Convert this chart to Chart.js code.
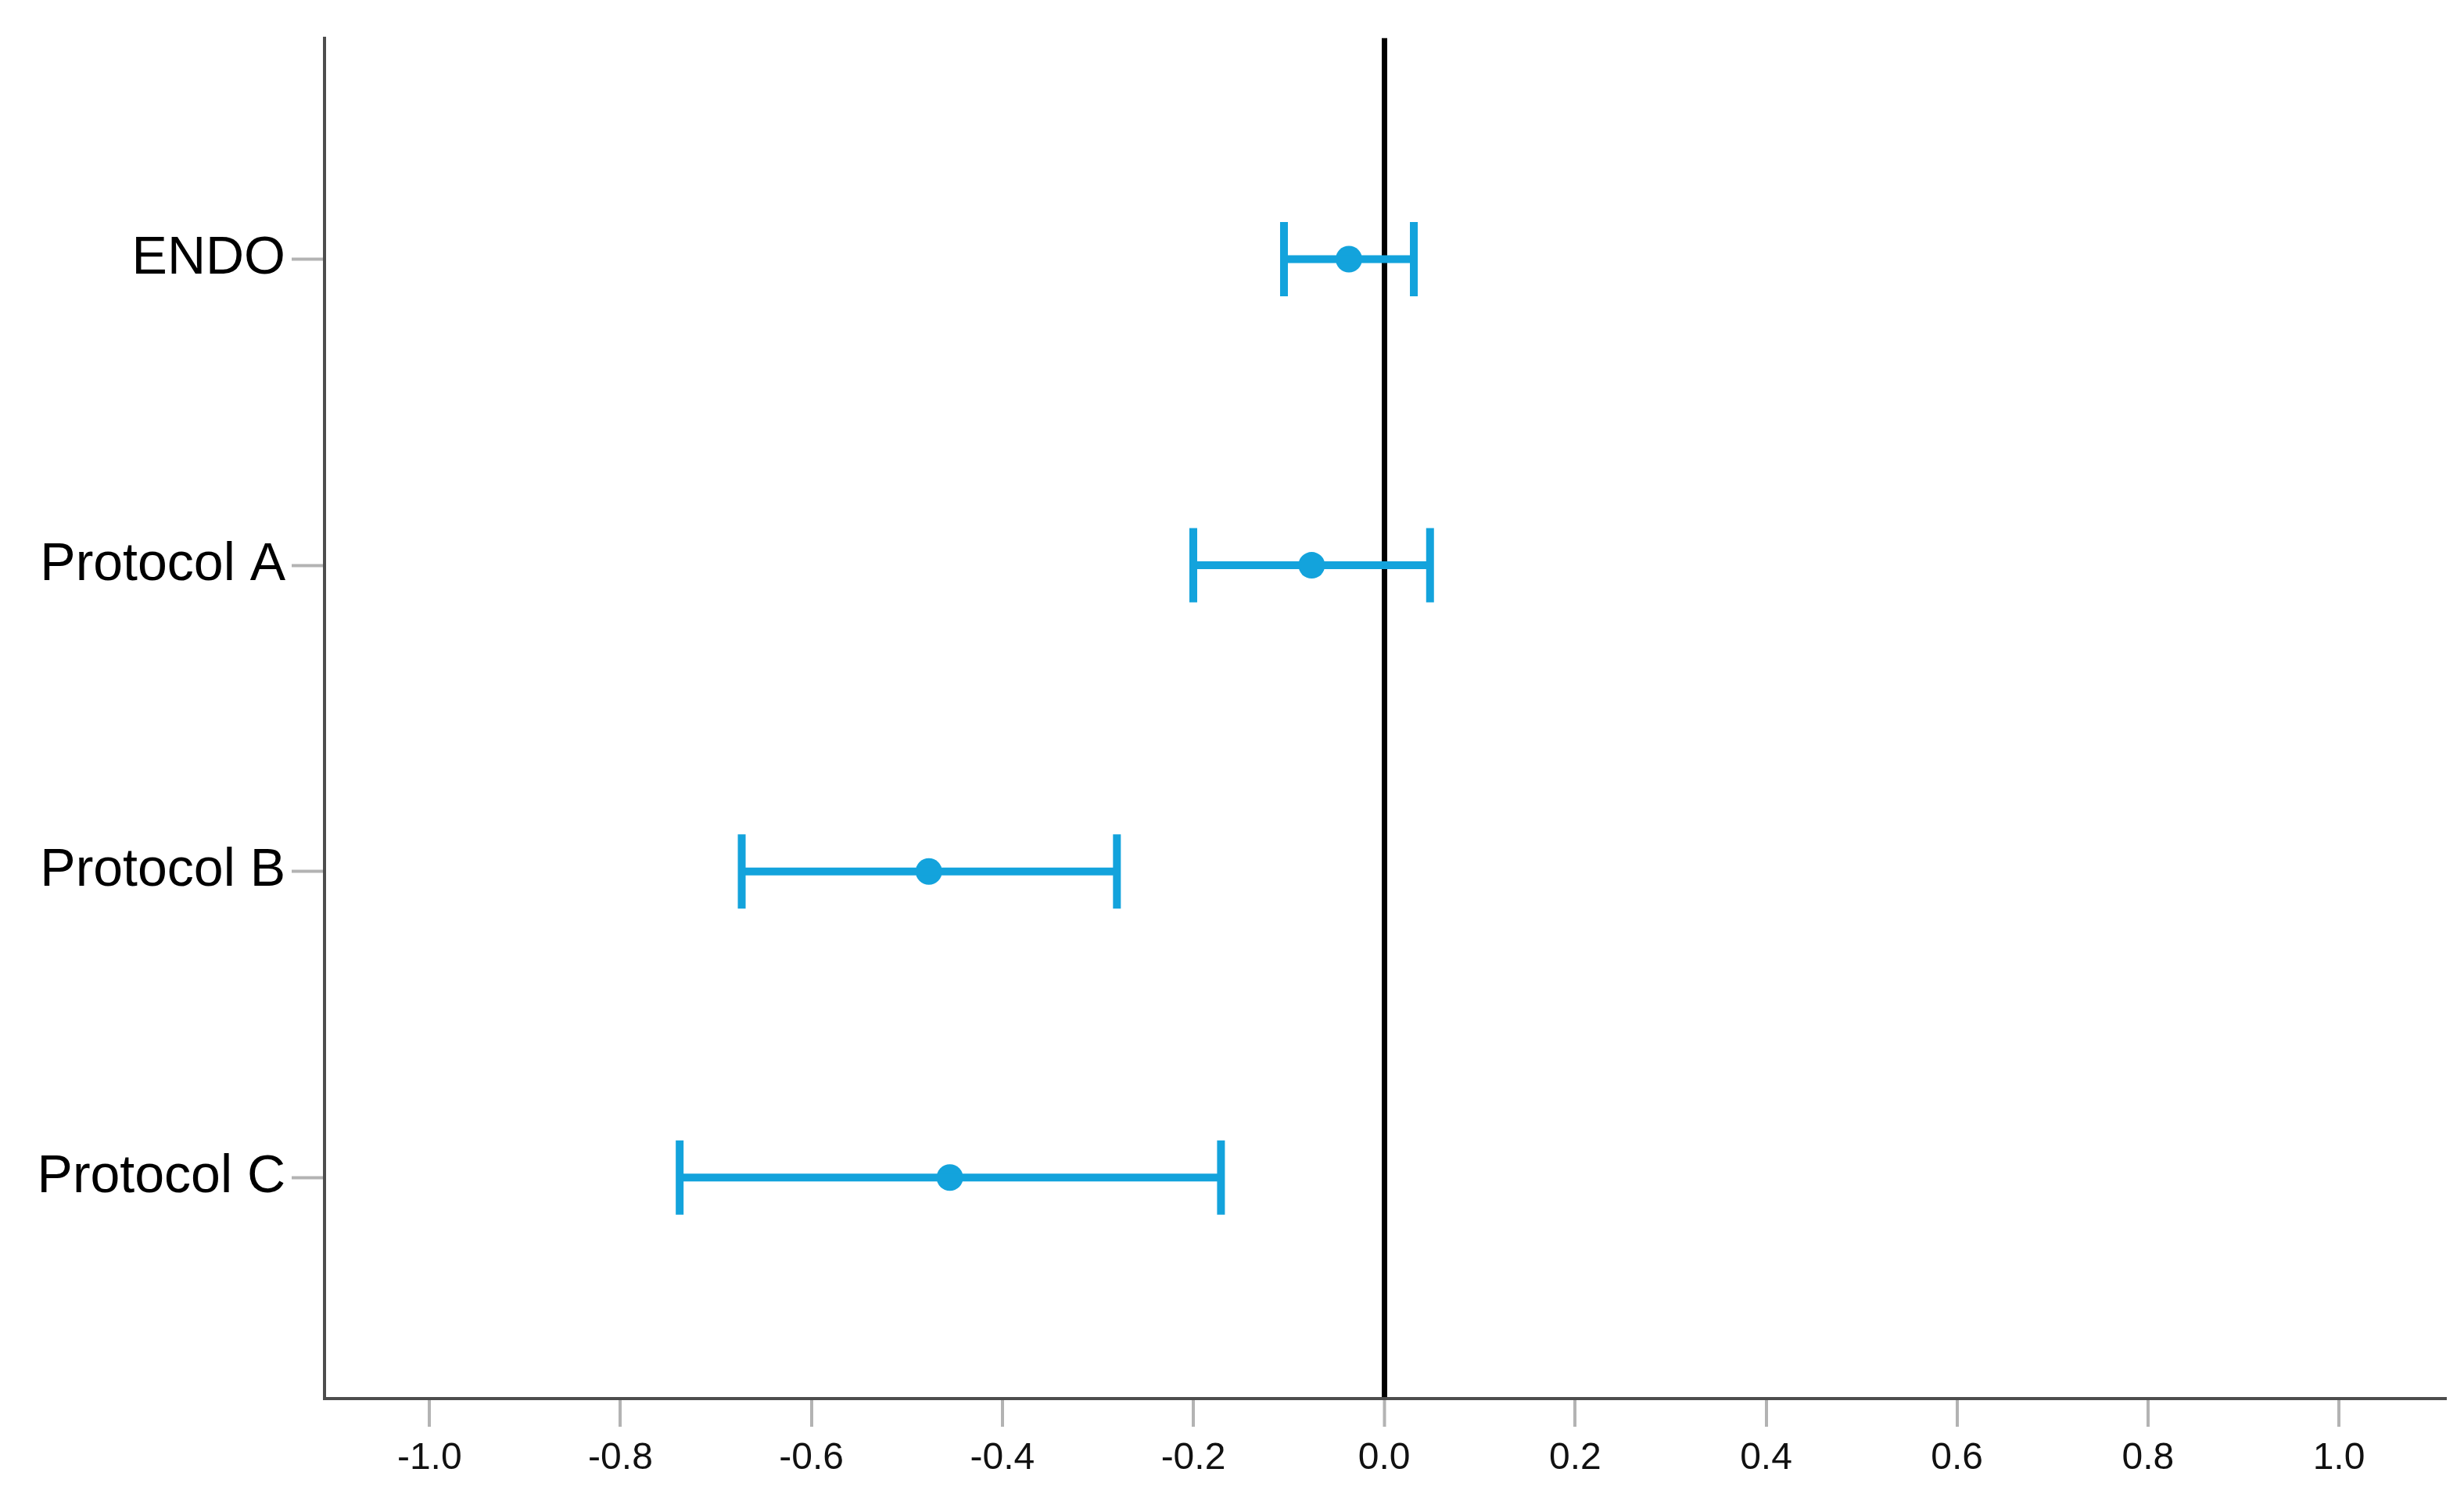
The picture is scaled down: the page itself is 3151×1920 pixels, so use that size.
<!DOCTYPE html>
<html>
<head>
<meta charset="utf-8">
<title>Forest plot</title>
<script src="https://cdn.jsdelivr.net/npm/chart.js@4/dist/chart.umd.min.js"></script>
<style>
    html, body { margin: 0; padding: 0; background: #fff; overflow: hidden; }
    #wrap { width: 3151px; height: 1920px; position: relative; }
</style>
</head>
<body>
<div id="wrap"><canvas id="forestChart"></canvas></div>
<script>
// data
const categories = ['ENDO', 'Protocol A', 'Protocol B', 'Protocol C'];
const means = [-0.037, -0.076, -0.477, -0.455];
const lower = [-0.105, -0.200, -0.673, -0.738];
const upper = [0.031, 0.048, -0.280, -0.171];
const xTicks = [-1.0, -0.8, -0.6, -0.4, -0.2, 0.0, 0.2, 0.4, 0.6, 0.8, 1.0];

const blue = '#13a3dc';
const fontFamily = '"Liberation Sans", Arial, Helvetica, sans-serif';

document.addEventListener('DOMContentLoaded', () => {
    const ctx = document.getElementById('forestChart').getContext('2d');

    // one whisker per row: line between the CI ends, caps drawn as rotated 'line' points
    const whiskers = categories.map((c, i) => ({
        label: c,
        data: [
            { x: lower[i], y: i },
            { x: upper[i], y: i },
        ],
        showLine: true,
        borderColor: blue,
        borderWidth: 10,
        pointStyle: 'line',
        pointRotation: 90,
        pointRadius: 47.5,
        pointBorderWidth: 10,
        pointBorderColor: blue,
        pointBackgroundColor: blue,
    }));

    new Chart(ctx, {
        type: 'scatter',
        data: {
            datasets: [
                ...whiskers,
                {
                    label: 'mean',
                    data: categories.map((c, i) => ({ x: means[i], y: i })),
                    pointRadius: 17,
                    pointBackgroundColor: blue,
                    pointBorderWidth: 0,
                },
            ],
        },
        options: {
            responsive: true,
            maintainAspectRatio: false,
            animation: false,
            events: [],
            layout: {
                autoPadding: false,
                padding: { top: 47, right: 22, left: 0, bottom: 0 },
            },
            plugins: {
                legend: { display: false },
                tooltip: { enabled: false },
            },
            scales: {
                x: {
                    type: 'linear',
                    min: -1.11,
                    max: 1.113,
                    z: 1,
                    afterBuildTicks: (axis) => {
                        axis.ticks = xTicks.map((v) => ({ value: v }));
                    },
                    afterFit: (axis) => {
                        axis.height = 131;
                    },
                    grid: {
                        drawOnChartArea: true,
                        color: (c) => (c.tick && c.tick.value === 0 ? '#000000' : 'rgba(0,0,0,0)'),
                        lineWidth: (c) => (c.tick && c.tick.value === 0 ? 7 : 0),
                        tickColor: '#b3b3b3',
                        tickWidth: 4,
                        tickLength: 36,
                    },
                    border: { display: true, color: '#4d4d4d', width: 4 },
                    ticks: {
                        color: '#111111',
                        padding: 12,
                        font: { family: fontFamily, size: 48 },
                        callback: (v) => Number(v).toFixed(1),
                    },
                },
                y: {
                    type: 'linear',
                    reverse: true,
                    min: -0.722,
                    max: 3.722,
                    afterBuildTicks: (axis) => {
                        axis.ticks = categories.map((c, i) => ({ value: i }));
                    },
                    afterFit: (axis) => {
                        axis.width = 415;
                    },
                    grid: {
                        drawOnChartArea: false,
                        drawTicks: true,
                        tickColor: '#b3b3b3',
                        tickWidth: 4,
                        tickLength: 42,
                    },
                    border: { display: true, color: '#4d4d4d', width: 4 },
                    ticks: {
                        color: '#000000',
                        padding: 8,
                        font: { family: fontFamily, size: 68 },
                        callback: (v) => categories[v] ?? '',
                    },
                },
            },
        },
    });
});
</script>
</body>
</html>
